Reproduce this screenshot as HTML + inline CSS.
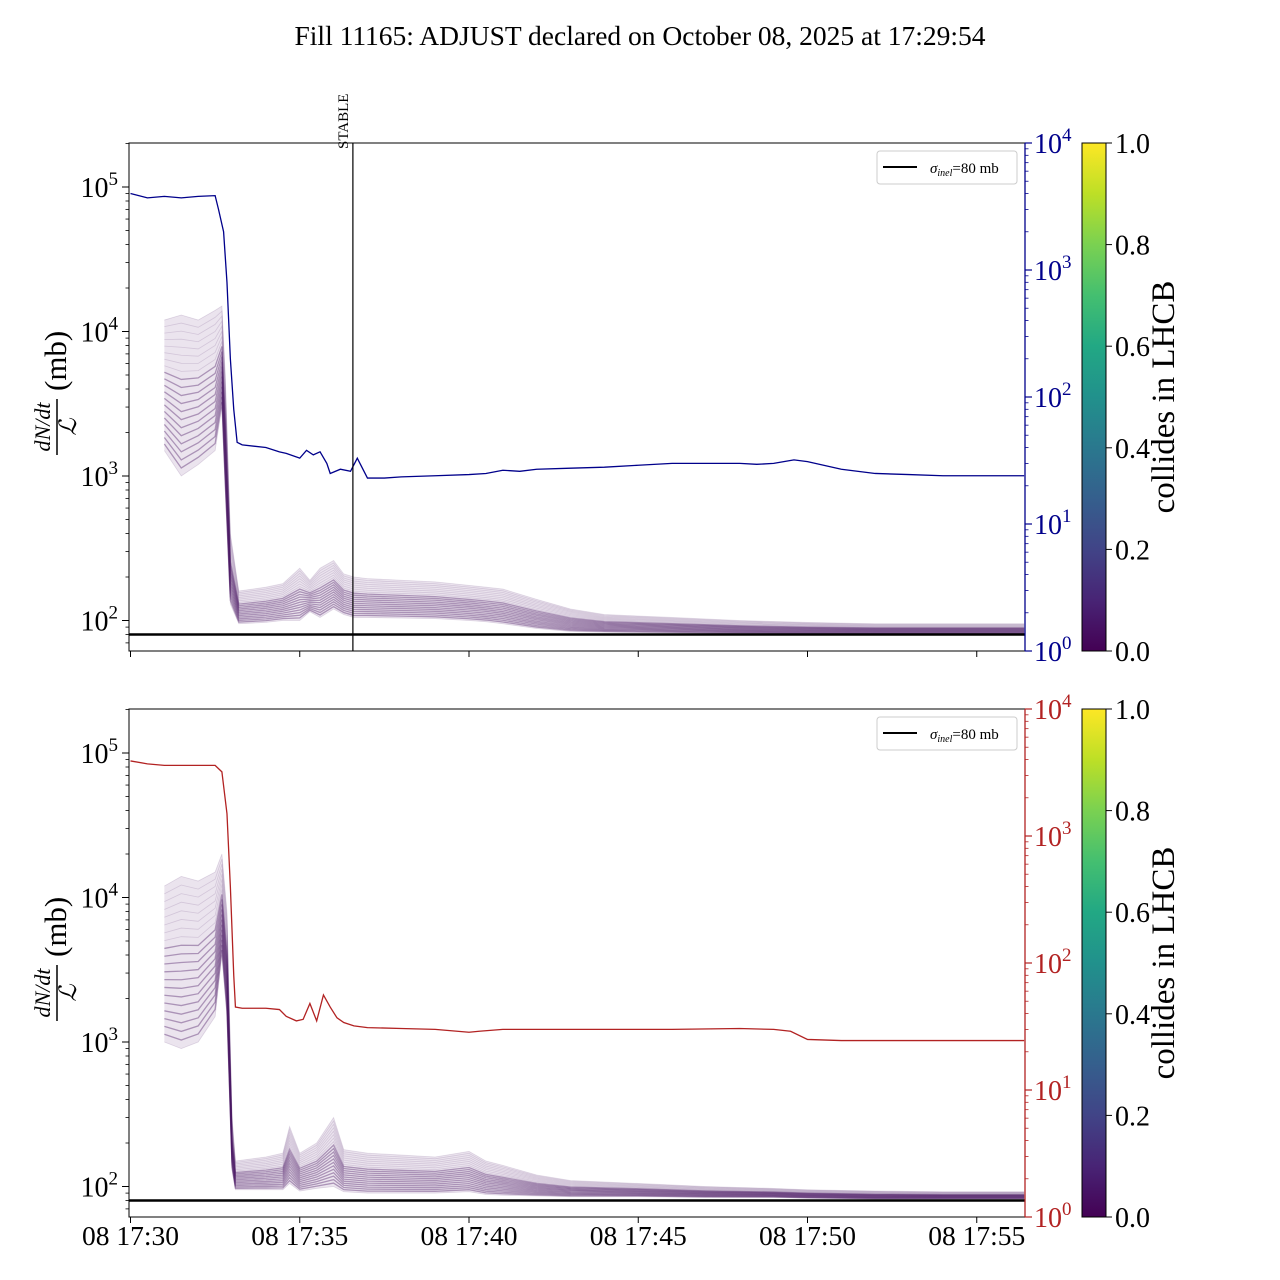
<!DOCTYPE html>
<html><head><meta charset="utf-8">
<style>
body{margin:0;background:#fff}
svg{display:block;font-family:"Liberation Serif","DejaVu Serif",serif}
</style></head>
<body>
<svg id="s" width="1280" height="1280" viewBox="0 0 1280 1280" xmlns="http://www.w3.org/2000/svg">
<defs>
<linearGradient id="vir" x1="0" y1="1" x2="0" y2="0">
<stop offset="0" stop-color="#440154"/><stop offset="0.1" stop-color="#482475"/><stop offset="0.2" stop-color="#414487"/><stop offset="0.3" stop-color="#355f8d"/><stop offset="0.4" stop-color="#2a788e"/><stop offset="0.5" stop-color="#21918c"/><stop offset="0.6" stop-color="#22a884"/><stop offset="0.7" stop-color="#44bf70"/><stop offset="0.8" stop-color="#7ad151"/><stop offset="0.9" stop-color="#bddf26"/><stop offset="1" stop-color="#fde725"/>
</linearGradient>
</defs>
<text x="640" y="45" font-size="27.5" text-anchor="middle">Fill 11165: ADJUST declared on October 08, 2025 at 17:29:54</text>
</svg>
<script>
// ---- data (minutes after 17:30) ----
const xTickLabels = ["08 17:30","08 17:35","08 17:40","08 17:45","08 17:50","08 17:55"];
const xTickMinutes = [0,5,10,15,20,25];
const stableMinute = 6.57;
const sigmaInel = 80;
const blueT = [0,0.5,1,1.5,2,2.5,2.6,2.75,2.85,2.95,3.05,3.15,3.3,4,4.4,4.6,5,5.2,5.4,5.6,5.8,5.9,6.2,6.5,6.7,7,7.5,8,9,10,10.5,11,11.5,12,13,14,15,16,17,18,18.5,19,19.3,19.6,20,21,22,23,24,26.4];
const blueV = [4000,3700,3800,3700,3800,3850,3000,2000,800,200,80,44,42,40,37,36,33,38,35,37,30,25,27,26,33,23,23,23.5,24,24.5,25,26.5,26,27,27.5,28,29,30,30,30,29.5,30,31,32,31,27,25,24.5,24,24];
const redT = [0,0.5,1,2,2.5,2.7,2.85,2.95,3.05,3.1,3.3,4,4.4,4.6,4.9,5.1,5.3,5.5,5.7,5.9,6.1,6.3,6.6,7,8,9,10,10.3,11,12,14,16,18,19,19.5,20,21,22,24,26.4];
const redV = [3900,3700,3600,3600,3600,3200,1500,400,80,45,44,44,43,38,35,36,48,35,56,45,37,34,32,31,30.5,30,28.5,29,30,30,30,30,30.5,30,29,25,24.5,24.5,24.5,24.5];
const topT = [1.0,1.5,2.0,2.5,2.7,2.8,2.95,3.2,4,4.5,5,5.3,5.6,6,6.3,6.6,7,8,9,10,10.5,11,12,13,14,16,18,20,22,24,26.4];
const topLo = [1500,1000,1200,1500,3000,800,130,95,97,100,100,115,105,120,110,105,105,104,103,100,98,95,88,84,83,82,81,80.5,80.5,80.5,80.5];
const topHi = [12000,13000,12000,14000,15000,5000,400,160,170,180,230,190,230,260,210,200,195,190,185,175,170,165,140,120,110,105,100,97,95,95,95];
const botT = [1.0,1.5,2.0,2.5,2.7,2.85,3.0,3.1,4,4.5,4.7,5,5.5,6,6.3,7,8,9,10,10.5,11,12,13,15,17,19,20,22,24,26.4];
const botLo = [1000,900,1000,1500,4000,1500,130,95,95,95,105,93,97,100,92,90,90,90,92,88,87,86,85,85,84,84,83,82,82,82];
const botHi = [12000,14000,13000,15000,20000,8000,300,150,160,170,260,170,200,300,180,170,165,160,175,150,140,120,110,105,100,97,95,93,92,92];
const bundleFrac = [0,0.05,0.1,0.15,0.2,0.25,0.3,0.35,0.4,0.45,0.5,0.55,0.6,0.65,0.7,0.75,0.8,0.85,0.9,0.95,1];
const cbTicks = ["0.0","0.2","0.4","0.6","0.8","1.0"];

const NS="http://www.w3.org/2000/svg";
const svg=document.getElementById('s');
function mk(tag,attrs,parent){const e=document.createElementNS(NS,tag);for(const k in attrs)e.setAttribute(k,attrs[k]);(parent||svg).appendChild(e);return e;}
const X0=130.5, PXM=33.85, XL=129, XR=1025;
const xs=t=>X0+t*PXM;

function panel(top, name, rightColor, rT, rV, bT, bLo, bHi, showXLabels){
  const H=508, bottom=top+H;
  const yL=v=>top+44+ (5-Math.log10(v))*144.5;
  const yR=v=>bottom-Math.log10(v)*127;
  const g=mk('g',{});
  
  
  const cp=mk('clipPath',{id:'cp'+name},g);
  mk('rect',{x:XL,y:top,width:XR-XL,height:H},cp);
  const inner=mk('g',{'clip-path':'url(#cp'+name+')'},g);
  const band=mk('g',{},inner);
  
  
  let up=bT.map((t,i)=>xs(t)+','+yL(bHi[i])).join(' ');
  let lo=bT.map((t,i)=>xs(t)+','+yL(bLo[i])).reverse().join(' ');
  const poly=mk('polygon',{points:up+' '+lo,fill:'#7a4a8a','fill-opacity':'0.15'},band);
  
  
  bundleFrac.forEach((f,k)=>{
    const pts=bT.map((t,i)=>{const v=Math.pow(bLo[i],1-f)*Math.pow(bHi[i],f);return xs(t)+','+yL(v);}).join(' ');
    const dark = f>=0.05 && f<=0.6;
    const pl=mk('polyline',{points:pts,fill:'none',stroke:'#4b1a63','stroke-opacity':dark?0.4:0.15,'stroke-width':dark?1.3:0.8},band);
    
    
  });
  const sl=mk('line',{x1:XL,x2:XR,y1:yL(sigmaInel),y2:yL(sigmaInel),stroke:'#000','stroke-width':2.5},inner);
  
  
  const rl=mk('polyline',{points:rT.map((t,i)=>xs(t)+','+yR(rV[i])).join(' '),fill:'none',stroke:rightColor,'stroke-width':1.3},inner);
  
  
  const fr=mk('rect',{x:XL,y:top,width:XR-XL,height:H,fill:'none',stroke:'#000','stroke-width':1},g);
  
  
  mk('line',{x1:XR,x2:XR,y1:top,y2:bottom,stroke:rightColor,'stroke-width':1.3},g);
  for(let d=1;d<=5;d++){
    for(let m=1;m<10;m++){
      const v=m*Math.pow(10,d);const y=yL(v);
      if(y<top||y>bottom)continue;
      mk('line',{x1:XL,x2:XL-(m==1?7:3.5),y1:y,y2:y,stroke:'#000','stroke-width':m==1?1:0.8},g);
      if(m==1){
        const t=mk('text',{x:XL-11,y:y+10,'font-size':28,'text-anchor':'end'},g);
        
        
        t.innerHTML='10<tspan font-size="19" dy="-12">'+d+'</tspan>';
      }
    }
  }
  for(let d=0;d<=4;d++){
    for(let m=1;m<10;m++){
      if(d==4&&m>1)break;
      const v=m*Math.pow(10,d);const y=yR(v);
      mk('line',{x1:XR,x2:XR+(m==1?7:3.5),y1:y,y2:y,stroke:rightColor,'stroke-width':m==1?1.2:0.8},g);
      if(m==1){
        const t=mk('text',{x:XR+9,y:y+10,'font-size':28,fill:rightColor},g);
        
        
        t.innerHTML='10<tspan font-size="19" dy="-12">'+d+'</tspan>';
      }
    }
  }
  xTickMinutes.forEach((m,i)=>{
    const x=xs(m);
    mk('line',{x1:x,x2:x,y1:bottom,y2:bottom+6,stroke:'#000'},g);
    if(showXLabels){
      const t=mk('text',{x:x,y:bottom+28,'font-size':27.5,'text-anchor':'middle'},g);
      
      
      t.textContent=xTickLabels[i];
    }
  });
  const yl=mk('g',{transform:'translate(60,'+(top+H/2-10)+') rotate(-90)'},g);
  
  
  const a=mk('text',{x:-40,y:-10,'font-size':22,'font-style':'italic','text-anchor':'middle'},yl);a.textContent='dN/dt';
  mk('line',{x1:-68,x2:-12,y1:-3,y2:-3,stroke:'#000','stroke-width':1.5},yl);
  const b=mk('text',{x:-40,y:16,'font-size':24,'font-style':'italic','text-anchor':'middle'},yl);b.textContent='ℒ';
  const c=mk('text',{x:-4,y:6,'font-size':31},yl);c.textContent='(mb)';
  const lg=mk('g',{},g);
  
  
  mk('rect',{x:877,y:top+8,width:140,height:33,rx:3,fill:'#fff',stroke:'#ccc'},lg);
  mk('line',{x1:883,x2:917,y1:top+24,y2:top+24,stroke:'#000','stroke-width':2},lg);
  const lt=mk('text',{x:930,y:top+30,'font-size':15},lg);
  
  
  lt.innerHTML='<tspan font-style="italic">σ</tspan><tspan font-size="10" font-style="italic" dy="3">inel</tspan><tspan dy="-3">=80 mb</tspan>';
  const cb=mk('g',{},g);
  
  
  mk('rect',{x:1082,y:top,width:24,height:H,fill:'url(#vir)',stroke:'#000','stroke-width':1},cb);
  cbTicks.forEach((s,i)=>{
    const y=bottom-i*H/5;
    mk('line',{x1:1106,x2:1112,y1:y,y2:y,stroke:'#000'},cb);
    const t=mk('text',{x:1115,y:y+10,'font-size':28},cb);
    
    
    t.textContent=s;
  });
  const ct=mk('text',{x:0,y:0,'font-size':33,'text-anchor':'middle',transform:'translate(1174,'+(top+H/2)+') rotate(-90)'},cb);
  
  
  ct.textContent='collides in LHCB';
  return {g,top,bottom};
}
const p1=panel(143,'top','#00008b',blueT,blueV,topT,topLo,topHi,false);
const p2=panel(709,'bottom','#b22222',redT,redV,botT,botLo,botHi,true);
const sx=xs(stableMinute);
const st=mk('line',{x1:sx,x2:sx,y1:143,y2:651,stroke:'#000','stroke-width':1.2});


const stt=mk('text',{x:0,y:0,'font-size':15,transform:'translate('+(sx-5)+',149) rotate(-90)'});


stt.textContent='STABLE';
</script>
</body></html>
